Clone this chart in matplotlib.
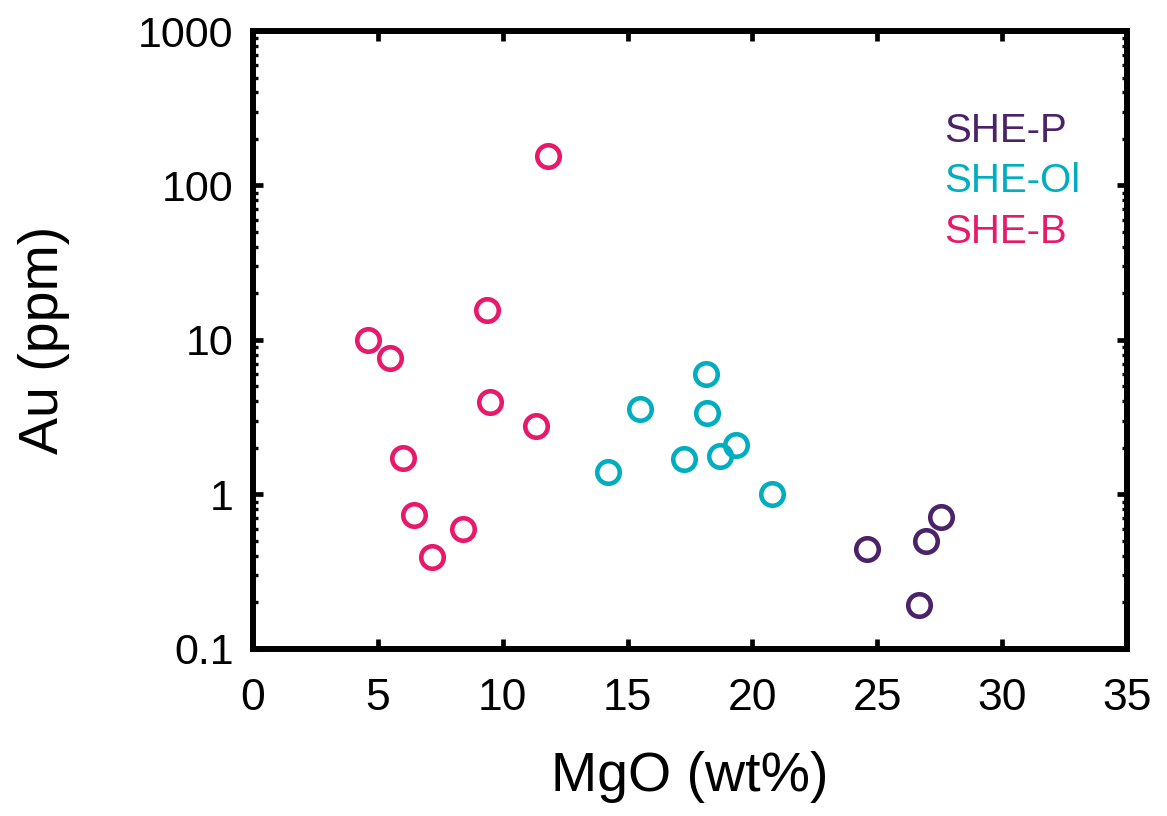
import matplotlib
matplotlib.use("Agg")
import matplotlib.pyplot as plt
from matplotlib.ticker import FixedLocator, FixedFormatter, LogLocator, NullFormatter, NullLocator

plt.rcParams['font.family'] = ['Liberation Sans', 'DejaVu Sans']

# Data
p_mgo = [24.58, 26.94, 27.56, 26.67]
p_au = [0.442, 0.498, 0.711, 0.192]

ol_mgo = [18.14, 15.50, 18.19, 19.34, 18.69, 17.25, 14.22, 20.78]
ol_au = [6.0, 3.58, 3.38, 2.09, 1.78, 1.69, 1.40, 1.0]

b_mgo = [4.59, 5.49, 9.38, 9.49, 11.35, 5.99, 6.46, 8.40, 7.16, 11.83]
b_au = [10.0, 7.68, 15.7, 3.99, 2.76, 1.73, 0.74, 0.60, 0.396, 156.0]

names = ["SHE-P", "SHE-Ol", "SHE-B"]
colors = ["#4A2369", "#00AEBF", "#E8196A"]

xticks = [0, 5, 10, 15, 20, 25, 30, 35]
yticks = [0.1, 1, 10, 100, 1000]
ytick_labels = ["0.1", "1", "10", "100", "1000"]

fig = plt.figure(figsize=(11.67, 8.16), dpi=100)
ax = fig.add_axes([0.2168, 0.2047, 0.9657 - 0.2168, 0.962 - 0.2047])

series = [(p_mgo, p_au), (ol_mgo, ol_au), (b_mgo, b_au)]
for (xs, ys), c in zip(series, colors):
    ax.plot(xs, ys, linestyle='none', marker='o', markersize=16.2,
            markerfacecolor='none', markeredgecolor=c, markeredgewidth=3.3,
            clip_on=False)

ax.set_xlim(0, 35)
ax.set_yscale('log')
ax.set_ylim(0.1, 1000)
ax.xaxis.set_major_locator(FixedLocator(xticks))
ax.xaxis.set_minor_locator(NullLocator())
ax.yaxis.set_major_locator(FixedLocator(yticks))
ax.yaxis.set_major_formatter(FixedFormatter(ytick_labels))
ax.yaxis.set_minor_locator(LogLocator(base=10, subs=range(2, 10)))
ax.yaxis.set_minor_formatter(NullFormatter())

for s in ax.spines.values():
    s.set_linewidth(4.3)
ax.tick_params(which='major', direction='in', length=7.5, width=3.4,
               top=True, right=True, labelsize=31, colors='black')
ax.tick_params(which='minor', direction='in', length=3.6, width=2.4,
               top=True, right=True)
ax.tick_params(axis='x', which='major', pad=21, labelsize=32)
ax.tick_params(axis='y', which='major', pad=14)

ax.set_xlabel("MgO (wt%)", fontsize=40, labelpad=23)
ax.set_ylabel("Au (ppm)", fontsize=40, labelpad=49)

for i, (n, c) in enumerate(zip(names, colors)):
    ax.text(0.791, 0.838 - i * 0.0815, n, color=c, fontsize=29,
            transform=ax.transAxes, ha='left', va='center')

fig.savefig("out.png", dpi=100)
